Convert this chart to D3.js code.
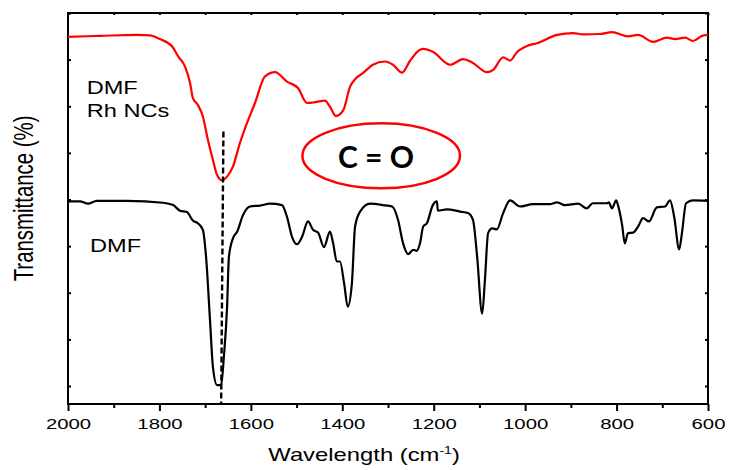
<!DOCTYPE html>
<html><head><meta charset="utf-8">
<script src="https://cdn.jsdelivr.net/npm/d3@7"></script>
<style>body{margin:0;background:#fff}svg{display:block}</style>
</head><body>
<script>
// ---- data (wavenumber cm^-1, transmittance %) ----
const rhWavenumber = [2000,1930,1849,1821,1799,1772,1759,1744,1733,1727,1716,1705,1694,1683,1674,1663,1652,1639,1624,1613,1591,1569,1547,1521,1497,1477,1464,1438,1427,1414,1398,1383,1372,1355,1333,1307,1289,1269,1252,1230,1223,1202,1164,1136,1116,1083,1070,1048,1033,1018,994,974,930,895,873,836,810,775,753,720,690,672,650,633,613,600];
const rhTransmittance = [74.9,75.1,75.3,75.2,74.4,72.8,70.7,68.5,65.0,61.8,60.3,57.8,52.8,48.5,45.3,44.1,44.9,47.1,52.1,55.2,60.7,66.4,67.3,65.3,63.9,60.7,60.8,61.2,59.9,57.9,59.1,64.2,65.8,67.1,68.9,69.6,68.9,67.2,69.7,72.1,72.3,71.7,68.9,70.1,69.4,67.3,67.8,70.5,69.8,71.6,73.0,73.5,75.3,75.7,75.4,75.5,75.9,75.0,75.3,73.8,74.7,74.4,74.7,74.0,75.1,75.3];
const dmfWavenumber = [2000,1974,1956,1937,1871,1792,1770,1755,1740,1727,1716,1705,1698,1689,1683,1674,1665,1659,1652,1648,1639,1630,1617,1602,1580,1558,1532,1521,1510,1499,1488,1475,1464,1453,1440,1427,1420,1412,1405,1396,1388,1379,1372,1361,1339,1311,1291,1278,1267,1256,1245,1237,1230,1223,1215,1202,1193,1191,1171,1142,1125,1114,1105,1094,1088,1081,1072,1062,1048,1033,1011,983,946,930,913,884,865,852,821,817,810,801,797,788,782,775,764,753,742,729,712,694,683,674,663,657,648,633,600];
const dmfTransmittance = [39.6,39.6,39.1,39.7,39.7,39.3,38.8,37.6,37.3,35.5,34.9,33.5,27.7,13.5,4.1,0.2,0.2,6.3,17.0,27.7,31.7,33.1,36.7,38.5,38.7,39.1,38.8,36.3,32.0,30.4,32.0,35.3,33.5,32.9,29.8,33.1,30.6,26.7,26.7,22.0,17.0,22.0,34.2,37.4,39.1,38.8,38.5,35.6,30.6,28.3,29.2,29.0,30.6,34.2,34.9,38.8,39.6,37.6,37.9,37.4,37.1,35.6,27.7,15.5,22.7,32.8,33.8,33.6,37.1,39.8,38.5,39.0,39.0,39.4,38.8,39.1,38.1,39.2,39.2,39.4,38.1,39.8,38.8,34.6,30.6,32.8,32.9,34.2,36.0,35.3,38.3,38.5,39.8,36.3,29.3,32.8,39.2,39.8,39.7];
const xMajorTicks = [2000,1800,1600,1400,1200,1000,800,600];
const xMinorTicks = [1900,1700,1500,1300,1100,900,700];
const yTicks = [0,10,20,30,40,50,60,70,80];
const markerLine = {wnTop:1660, wnBottom:1665, tTop:54.6};
const labels = {upper:["DMF","Rh NCs"], lower:"DMF", bond:"C = O", xTitle:"Wavelength (cm", xSup:"-1", yTitle:"Transmittance (%)"};

const W = 729, H = 470;
const m = {l:68, r:708, t:13, b:404};
const svg = d3.select("body").append("svg").attr("width",W).attr("height",H);
const x = d3.scaleLinear().domain([2000,600]).range([m.l,m.r]);
const y = d3.scaleLinear().domain([-3.86,80]).range([m.b,m.t]);
const FONT = "'Liberation Sans', Arial, sans-serif";
const SX = 1.31;

// axes
const gB = svg.append("g").attr("transform",`translate(0,${m.b})`)
  .call(d3.axisBottom(x).tickValues(xMajorTicks).tickSize(7).tickSizeOuter(0).tickFormat(d3.format("d")));
gB.selectAll("text").attr("y",25.3).attr("dy",0).attr("transform",`scale(${SX},1)`)
  .style("font-family",FONT).style("font-size","15.5px").attr("fill","#000");
const gBm = svg.append("g").attr("transform",`translate(0,${m.b})`)
  .call(d3.axisBottom(x).tickValues(xMinorTicks).tickSize(4).tickSizeOuter(0).tickFormat(""));
const gT = svg.append("g").attr("transform",`translate(0,${m.t})`)
  .call(d3.axisTop(x).tickValues(xMajorTicks.concat(xMinorTicks)).tickSize(-2).tickSizeOuter(0).tickFormat(""));
const gL = svg.append("g").attr("transform",`translate(${m.l},0)`)
  .call(d3.axisLeft(y).tickValues(yTicks).tickSize(-3).tickSizeOuter(0).tickFormat(""));
const gR = svg.append("g").attr("transform",`translate(${m.r},0)`)
  .call(d3.axisRight(y).tickValues(yTicks).tickSize(-3).tickSizeOuter(0).tickFormat(""));
[gB,gBm,gT,gL,gR].forEach(g=>{g.select(".domain").remove();g.selectAll("line").attr("stroke","#000").attr("stroke-width",2);});

svg.append("rect").attr("x",m.l).attr("y",m.t).attr("width",m.r-m.l).attr("height",m.b-m.t)
  .attr("fill","none").attr("stroke","#000").attr("stroke-width",2);

// curves
const line = d3.line().curve(d3.curveMonotoneX);
const rhPts = rhWavenumber.map((w,i)=>[x(w),y(rhTransmittance[i])]);
const dmfPts = dmfWavenumber.map((w,i)=>[x(w),y(dmfTransmittance[i])]);
svg.append("path").attr("d",line(rhPts)).attr("fill","none").attr("stroke","#ff0000").attr("stroke-width",2.2).attr("stroke-linejoin","round");
svg.append("path").attr("d",line(dmfPts)).attr("fill","none").attr("stroke","#000").attr("stroke-width",2.2).attr("stroke-linejoin","round");

// dashed marker
svg.append("line").attr("x1",x(markerLine.wnTop)).attr("y1",y(markerLine.tTop))
  .attr("x2",x(markerLine.wnBottom)).attr("y2",m.b)
  .attr("stroke","#000").attr("stroke-width",2.4).attr("stroke-dasharray","6,3");

// ellipse + bond text
svg.append("ellipse").attr("cx",381.2).attr("cy",155.8).attr("rx",78.8).attr("ry",32.5)
  .attr("fill","none").attr("stroke","#ff0000").attr("stroke-width",2.5);
svg.append("text").attr("x",376).attr("y",168.3).attr("text-anchor","middle")
  .style("font-family","Lato, 'Open Sans', sans-serif").style("font-weight","bold").style("font-size","30px")
  .text(labels.bond);

// series labels
function stretchedText(tx,ty,str,size,anchor){
  return svg.append("text").attr("transform",`translate(${tx},${ty}) scale(${SX},1)`)
    .attr("text-anchor",anchor||"start").style("font-family",FONT).style("font-size",size+"px").text(str);
}
stretchedText(86.7,94,labels.upper[0],18);
stretchedText(86.7,116.7,labels.upper[1],18);
stretchedText(90,251.7,labels.lower,18);

// axis titles
const xt = svg.append("text").attr("transform",`translate(268.3,460.7) scale(1.28,1)`)
  .style("font-family",FONT).style("font-size","18.6px");
xt.append("tspan").text(labels.xTitle);
xt.append("tspan").attr("dy",-7).style("font-size","11px").text(labels.xSup);
xt.append("tspan").attr("dy",7).text(")");

svg.append("text").attr("transform",`translate(33.3,198.4) scale(1.33,1) rotate(-90)`)
  .attr("text-anchor","middle").style("font-family",FONT).style("font-size","20.4px").text(labels.yTitle);
</script>
</body></html>
